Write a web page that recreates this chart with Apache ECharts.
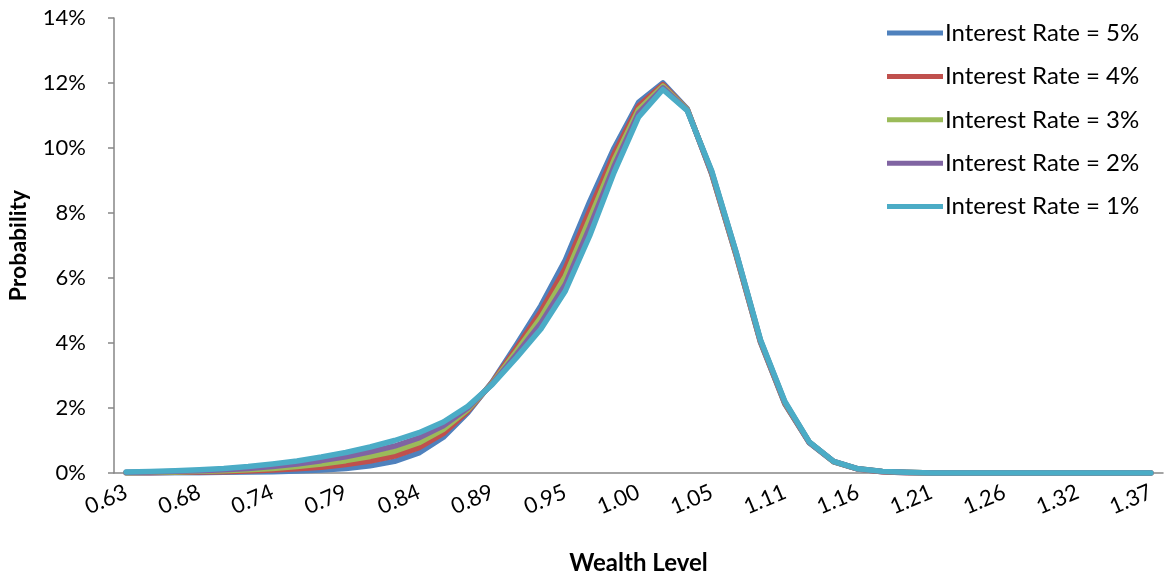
<!DOCTYPE html>
<html>
<head>
<meta charset="utf-8">
<script src="https://cdn.jsdelivr.net/npm/echarts@6/dist/echarts.min.js"></script>
<style>
  html, body { margin: 0; padding: 0; background: #ffffff; }
  #chart { width: 1164px; height: 576px; }
</style>
</head>
<body>
<div id="chart"></div>
<script>
// Wealth level grid (x-axis categories)
const wealthLevels = [
  '0.63','0.65','0.67','0.68','0.70','0.72','0.74','0.75','0.77','0.79',
  '0.81','0.82','0.84','0.86','0.88','0.89','0.91','0.93','0.95','0.96',
  '0.98','1.00','1.02','1.04','1.05','1.07','1.09','1.11','1.12','1.14',
  '1.16','1.18','1.19','1.21','1.23','1.25','1.26','1.28','1.30','1.32',
  '1.33','1.35','1.37'
];

// Probability (%) of each wealth level, one array per interest rate
const rate5 = [
  0.00, 0.00, 0.01, 0.01, 0.02, 0.03, 0.04, 0.06, 0.09, 0.14,
  0.22, 0.36, 0.62, 1.10, 1.85, 2.80, 3.95, 5.15, 6.55, 8.35,
  10.00, 11.40, 12.00, 11.20, 9.20, 6.70, 4.02, 2.12, 0.93, 0.34,
  0.12, 0.04, 0.01, 0.00, 0.00, 0.00, 0.00, 0.00, 0.00, 0.00,
  0.00, 0.00, 0.00
];
const rate4 = [
  0.01, 0.01, 0.02, 0.03, 0.04, 0.06, 0.09, 0.13, 0.18, 0.26,
  0.37, 0.52, 0.78, 1.22, 1.90, 2.78, 3.85, 4.97, 6.30, 8.08,
  9.82, 11.29, 11.95, 11.19, 9.22, 6.72, 4.04, 2.14, 0.94, 0.35,
  0.12, 0.04, 0.01, 0.00, 0.00, 0.00, 0.00, 0.00, 0.00, 0.00,
  0.00, 0.00, 0.00
];
const rate3 = [
  0.01, 0.02, 0.03, 0.05, 0.07, 0.10, 0.14, 0.20, 0.28, 0.38,
  0.51, 0.67, 0.93, 1.34, 1.95, 2.76, 3.75, 4.79, 6.05, 7.82,
  9.63, 11.18, 11.90, 11.18, 9.25, 6.75, 4.06, 2.16, 0.95, 0.35,
  0.13, 0.05, 0.02, 0.00, 0.00, 0.00, 0.00, 0.00, 0.00, 0.00,
  0.00, 0.00, 0.00
];
const rate2 = [
  0.02, 0.03, 0.05, 0.07, 0.10, 0.14, 0.20, 0.28, 0.38, 0.50,
  0.65, 0.83, 1.08, 1.45, 2.00, 2.74, 3.65, 4.61, 5.80, 7.56,
  9.44, 11.07, 11.85, 11.16, 9.27, 6.78, 4.08, 2.18, 0.95, 0.36,
  0.13, 0.05, 0.02, 0.00, 0.00, 0.00, 0.00, 0.00, 0.00, 0.00,
  0.00, 0.00, 0.00
];
const rate1 = [
  0.03, 0.05, 0.07, 0.10, 0.14, 0.20, 0.28, 0.37, 0.49, 0.63,
  0.80, 1.00, 1.24, 1.57, 2.05, 2.72, 3.55, 4.43, 5.60, 7.30,
  9.25, 10.95, 11.80, 11.15, 9.30, 6.80, 4.10, 2.20, 0.96, 0.36,
  0.13, 0.05, 0.02, 0.00, 0.00, 0.00, 0.00, 0.00, 0.00, 0.00,
  0.00, 0.00, 0.00
];

const seriesNames = [
  'Interest Rate = 5%',
  'Interest Rate = 4%',
  'Interest Rate = 3%',
  'Interest Rate = 2%',
  'Interest Rate = 1%'
];
const seriesData = [rate5, rate4, rate3, rate2, rate1];
const seriesColors = ['#4F81BD', '#C0504D', '#9BBB59', '#8064A2', '#4BACC6'];

const FONT = 'Lato, "Liberation Sans", sans-serif';
const axisGray = '#868686';

const chart = echarts.init(document.getElementById('chart'), null, { renderer: 'canvas' });

chart.setOption({
  animation: false,
  backgroundColor: '#ffffff',
  grid: {
    left: 114, right: 1, top: 18, bottom: 103,
    containLabel: false,
    outerBoundsMode: 'none'
  },
  legend: {
    orient: 'vertical',
    left: 882,
    top: 16,
    itemWidth: 56,
    itemHeight: 20,
    itemGap: 19.4,
    icon: 'path://M0,0 L56,0 L56,5 L0,5 Z',
    textStyle: { fontFamily: FONT, fontSize: 24, color: '#000000', padding: [0, 0, 0, -3] },
    data: seriesNames
  },
  xAxis: {
    type: 'category',
    data: wealthLevels,
    boundaryGap: true,
    name: 'Wealth Level',
    nameLocation: 'middle',
    nameGap: 78,
    nameTextStyle: { fontFamily: FONT, fontSize: 24, fontWeight: 'bold', color: '#000000' },
    axisLine: { lineStyle: { color: axisGray, width: 1.5 } },
    axisTick: { interval: 0, length: 6, lineStyle: { color: axisGray, width: 1.5 } },
    axisLabel: {
      interval: 2,
      rotate: 23,
      margin: 18,
      fontFamily: FONT,
      fontSize: 22,
      color: '#000000'
    },
    splitLine: { show: false }
  },
  yAxis: {
    type: 'value',
    min: 0,
    max: 14,
    interval: 2,
    name: 'Probability',
    nameLocation: 'middle',
    nameGap: 84,
    nameRotate: 90,
    nameTextStyle: { fontFamily: FONT, fontSize: 23, fontWeight: 'bold', color: '#000000' },
    axisLine: { show: true, lineStyle: { color: axisGray, width: 1.5 } },
    axisTick: { show: true, length: 6, lineStyle: { color: axisGray, width: 1.5 } },
    axisLabel: {
      formatter: '{value}%',
      margin: 28,
      fontFamily: FONT,
      fontSize: 22,
      color: '#000000'
    },
    splitLine: { show: false }
  },
  series: seriesNames.map((name, k) => ({
    name: name,
    type: 'line',
    data: seriesData[k],
    symbol: 'none',
    smooth: false,
    color: seriesColors[k],
    lineStyle: { width: 5.5, color: seriesColors[k], cap: 'round', join: 'round' },
    itemStyle: { color: seriesColors[k] }
  }))
});
</script>
</body>
</html>
